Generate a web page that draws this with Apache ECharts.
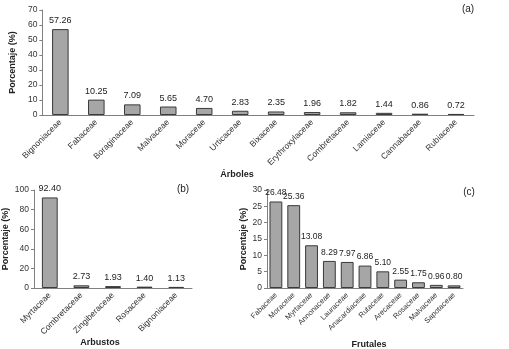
<!DOCTYPE html>
<html><head><meta charset="utf-8">
<script src="https://cdn.jsdelivr.net/npm/echarts@6/dist/echarts.min.js"></script>
<style>html,body{margin:0;padding:0;background:#fff}#c{width:509px;height:349px}</style>
</head><body><div id="c"></div>
<script>
const catA = ['Bignoniaceae','Fabaceae','Boraginaceae','Malvaceae','Moraceae','Urticaceae','Bixaceae','Erythroxylaceae','Combretaceae','Lamiaceae','Cannabaceae','Rubiaceae'];
const valA = [57.26,10.25,7.09,5.65,4.70,2.83,2.35,1.96,1.82,1.44,0.86,0.72];
const catB = ['Myrtaceae','Combretaceae','Zingiberaceae','Rosaceae','Bignoniaceae'];
const valB = [92.40,2.73,1.93,1.40,1.13];
const catC = ['Fabaceae','Moraceae','Myrtaceae','Annonaceae','Lauraceae','Anacardiaceae','Rutaceae','Arecaceae','Rosaceae','Malvaceae','Sapotaceae'];
const valC = [26.48,25.36,13.08,8.29,7.97,6.86,5.10,2.55,1.75,0.96,0.80];
const yTicksA = {min:0,max:70,interval:10};
const yTicksB = {min:0,max:100,interval:20};
const yTicksC = {min:0,max:30,interval:5};

const F = 'Liberation Sans, Arial, sans-serif';
const axisLine = {show:true,lineStyle:{color:'#808080',width:1}};
function xAx(idx, cats, fs){
  return {type:'category',gridIndex:idx,data:cats,axisLine:axisLine,axisTick:{show:false},
    axisLabel:{rotate:45,fontSize:fs,color:'#333',fontFamily:F,margin:6,interval:0}};
}
function yAx(idx, t, gap){
  return {type:'value',gridIndex:idx,min:t.min,max:t.max,interval:t.interval,
    axisLine:axisLine,axisTick:{show:true,length:3,lineStyle:{color:'#808080'}},splitLine:{show:false},
    axisLabel:{fontSize:8.5,color:'#333',fontFamily:F,margin:5},
    name:'Porcentaje (%)',nameLocation:'middle',nameGap:gap,
    nameTextStyle:{fontSize:9,fontWeight:'bold',color:'#222',fontFamily:F}};
}
function ser(idx, vals, bw, fs){
  return {type:'bar',xAxisIndex:idx,yAxisIndex:idx,data:vals,barWidth:bw,
    itemStyle:{color:'#a6a6a6',borderColor:'#3a3a3a',borderWidth:1},
    label:{show:true,position:'top',distance:4,fontSize:fs,color:'#222',fontFamily:F,
      formatter:p=>p.value.toFixed(2)}};
}
const tt = (text,left,top,fs,bold)=>({text,left,top,textAlign:'center',padding:0,
  textStyle:{fontSize:fs,fontWeight:bold?'bold':'normal',color:'#222',fontFamily:F}});
const chart = echarts.init(document.getElementById('c'),null,{renderer:'canvas'});
chart.setOption({
  animation:false,
  grid:[
    {left:30,top:10,width:444,height:105},
    {left:33,top:190,width:159,height:98},
    {left:267,top:190,width:196,height:98}
  ],
  xAxis:[xAx(0,catA,8.5),xAx(1,catB,8.5),xAx(2,catC,7.5)],
  yAxis:[yAx(0,yTicksA,21),yAx(1,yTicksB,24),yAx(2,yTicksC,19)],
  series:[ser(0,valA,'46%',9),ser(1,valB,'50%',9),ser(2,valC,'72%',8.5)],
  title:[
    tt('Árboles',237,170,9,true),
    tt('Arbustos',100,338,9,true),
    tt('Frutales',369,340,9,true),
    tt('(a)',468,4,10,false),
    tt('(b)',183,184,10,false),
    tt('(c)',469,187,10,false)
  ]
});
</script></body></html>
